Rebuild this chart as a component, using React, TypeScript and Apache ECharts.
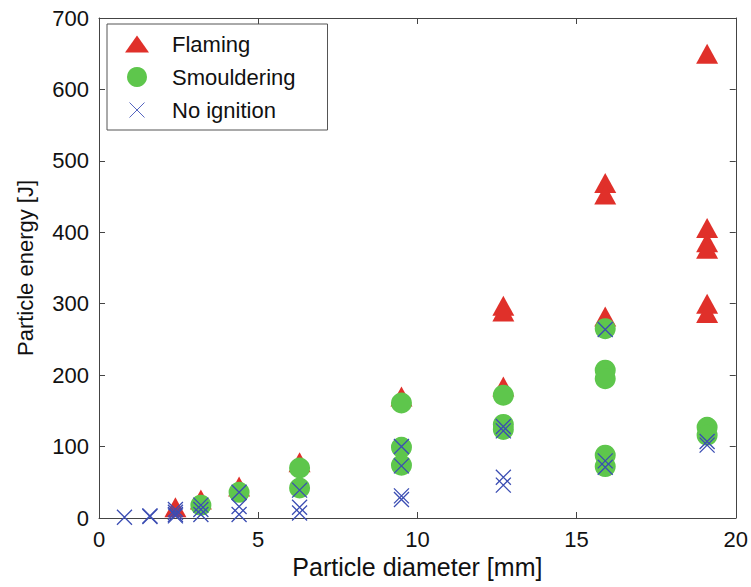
import React, { useEffect, useRef } from "react";
import * as echarts from "echarts";

const xTicks = [0, 5, 10, 15, 20];
const yTicks = [0, 100, 200, 300, 400, 500, 600, 700];

const flaming: [number, number][] = [
  [2.4, 15], [3.2, 26], [4.4, 44], [6.3, 78], [9.5, 170],
  [12.7, 297], [12.7, 289], [12.7, 184],
  [15.9, 469], [15.9, 453], [15.9, 282],
  [19.1, 650], [19.1, 406], [19.1, 386], [19.1, 377], [19.1, 300], [19.1, 287],
];

const smouldering: [number, number][] = [
  [3.2, 18], [4.4, 36], [6.3, 70], [6.3, 42],
  [9.5, 161], [9.5, 99], [9.5, 74],
  [12.7, 172], [12.7, 131], [12.7, 124],
  [15.9, 265], [15.9, 207], [15.9, 195], [15.9, 88], [15.9, 72],
  [19.1, 127], [19.1, 116],
];

const noIgnition: [number, number][] = [
  [0.8, 1], [1.6, 3], [1.6, 2],
  [2.4, 12], [2.4, 8], [2.4, 5], [2.4, 3],
  [3.2, 18], [3.2, 12], [3.2, 5],
  [4.4, 36], [4.4, 16], [4.4, 5],
  [6.3, 39], [6.3, 15], [6.3, 7],
  [9.5, 100], [9.5, 73], [9.5, 31], [9.5, 26],
  [12.7, 128], [12.7, 122], [12.7, 57], [12.7, 46],
  [15.9, 264], [15.9, 80], [15.9, 71],
  [19.1, 107], [19.1, 102],
];

const RED = "#e0302a";
const GREEN = "#5ec64c";
const BLUE = "#3b4db3";
const FONT = "'Liberation Sans', Arial, Helvetica, sans-serif";
const AXIS = "#444";

const X_SYMBOL = "path://M0,0L10,10M0,10L10,0";
const X_LEGEND = "path://M0,0L0,0M2.5,2.5L17.5,17.5M2.5,17.5L17.5,2.5M20,20L20,20";
const TRI_LEGEND = "path://M0,0L0,0M12,1.5L24,18.5L0,18.5ZM0,20L0,20";

export default function App() {
  const ref = useRef<HTMLDivElement>(null);
  useEffect(() => {
    if (!ref.current) return;
    const chart = echarts.init(ref.current, undefined, { renderer: "svg" });
    const axisCommon = {
      type: "value" as const,
      splitLine: { show: false },
      axisLine: { show: true, onZero: false, lineStyle: { color: AXIS, width: 1 } },
      axisTick: { show: true, inside: true, length: 6, lineStyle: { color: AXIS } },
    };
    chart.setOption({
      animation: false,
      backgroundColor: "#fff",
      grid: { left: 99, top: 18, right: 15, bottom: 69 },
      legend: {
        orient: "vertical",
        left: 107,
        top: 24,
        padding: [9, 32, 9, 18],
        itemWidth: 60,
        itemHeight: 20,
        itemGap: 11,
        borderColor: "#555",
        borderWidth: 1,
        backgroundColor: "#fff",
        textStyle: { fontFamily: FONT, fontSize: 22, color: "#111", lineHeight: 22 },
        data: [
          { name: "Flaming", icon: TRI_LEGEND },
          { name: "Smouldering", icon: "circle" },
          { name: "No ignition", icon: X_LEGEND, itemStyle: { borderWidth: 1, color: BLUE, borderColor: "#5565c0" } },
        ],
      },
      xAxis: [
        {
          ...axisCommon,
          min: 0,
          max: 20,
          interval: 5,
          position: "bottom",
          name: "Particle diameter [mm]",
          nameLocation: "middle",
          nameGap: 35,
          nameTextStyle: { fontFamily: FONT, fontSize: 25, color: "#111" },
          axisLabel: { fontFamily: FONT, fontSize: 22, color: "#111", margin: 10,
            customValues: xTicks },
        },
        {
          ...axisCommon,
          min: 0,
          max: 20,
          interval: 5,
          position: "top",
          axisLabel: { show: false },
        },
      ],
      yAxis: [
        {
          ...axisCommon,
          min: 0,
          max: 700,
          interval: 100,
          position: "left",
          name: "Particle energy [J]",
          nameLocation: "middle",
          nameGap: 63,
          nameTextStyle: { fontFamily: FONT, fontSize: 22, color: "#111" },
          axisLabel: { fontFamily: FONT, fontSize: 22, color: "#111", margin: 10,
            customValues: yTicks },
        },
        {
          ...axisCommon,
          min: 0,
          max: 700,
          interval: 100,
          position: "right",
          axisLabel: { show: false },
        },
      ],
      series: [
        {
          name: "Flaming",
          type: "scatter",
          data: flaming,
          symbol: "triangle",
          symbolSize: [22, 20],
          itemStyle: { color: RED, opacity: 1 },
        },
        {
          name: "Smouldering",
          type: "scatter",
          data: smouldering,
          symbol: "circle",
          symbolSize: 21,
          itemStyle: { color: GREEN, opacity: 1 },
        },
        {
          name: "No ignition",
          type: "scatter",
          data: noIgnition,
          symbol: X_SYMBOL,
          symbolSize: 15,
          itemStyle: { color: BLUE, borderColor: BLUE, borderWidth: 1.3, opacity: 1 },
        },
      ],
    });
    return () => chart.dispose();
  }, []);
  return (
    <div
      ref={ref}
      style={{ position: "fixed", left: 0, top: 0, width: 751, height: 587, background: "#fff" }}
    />
  );
}
